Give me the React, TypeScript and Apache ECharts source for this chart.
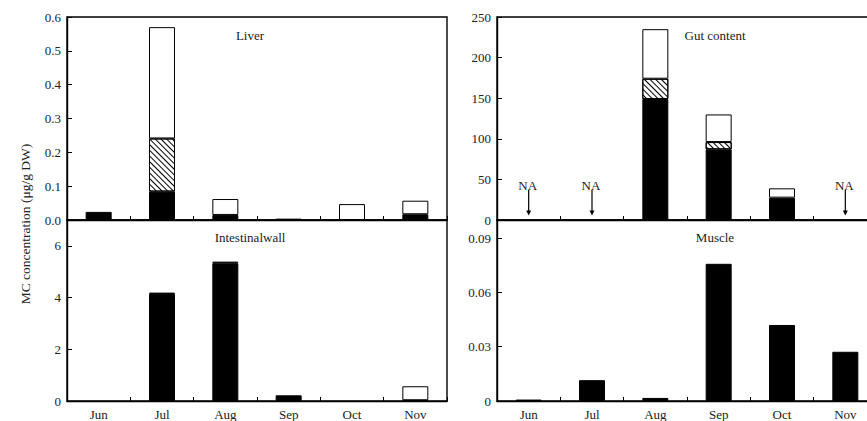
import React, { useEffect, useRef } from 'react';
import * as echarts from 'echarts';

const months = ['Jun', 'Jul', 'Aug', 'Sep', 'Oct', 'Nov'];

// Liver (µg/g DW)
const liverBlack = [0.024, 0.084, 0.015, 0.004, 0, 0.017];
const liverHatched = [0, 0.157, 0, 0, 0, 0];
const liverWhite = [0, 0.329, 0.047, 0, 0.047, 0.04];

// Gut content
const gutBlack = [null, null, 149, 87, 27.5, null];
const gutHatched = [null, null, 25, 9, 0, null];
const gutWhite = [null, null, 61, 34, 11.5, null];
const gutNA = ['Jun', 'Jul', 'Nov'];
const naLabelValue = 43;
const naArrowFrom = 37;
const naArrowTo = 5.5;

// Intestinal wall
const wallBlack = [0, 4.14, 5.33, 0.22, 0, 0.03];
const wallHatched = [0, 0, 0, 0, 0, 0];
const wallWhite = [0, 0.05, 0.06, 0, 0, 0.54];

// Muscle
const muscleBlack = [0.0008, 0.0115, 0.0017, 0.0758, 0.042, 0.0272];
const muscleHatched = [0, 0, 0, 0, 0, 0];
const muscleWhite = [0, 0, 0, 0, 0, 0];

const panelTitles = ['Liver', 'Gut content', 'Intestinalwall', 'Muscle'];
const yMax = [0.6, 250, 7, 0.1];
const yInterval = [0.1, 50, 2, 0.03];

const FONT = '"Liberation Serif", "Times New Roman", serif';
const TXT = '#222';

export default function App() {
  const ref = useRef<HTMLDivElement>(null);

  useEffect(() => {
    if (!ref.current) return;
    const chart = echarts.init(ref.current, undefined, { renderer: 'svg' });

    const grids = [
      { left: 67, top: 17, width: 380, height: 203 },
      { left: 497, top: 17, width: 380, height: 203 },
      { left: 67, top: 220, width: 380, height: 181 },
      { left: 497, top: 220, width: 380, height: 181 },
    ];

    const stacks = [
      [liverBlack, liverHatched, liverWhite],
      [gutBlack, gutHatched, gutWhite],
      [wallBlack, wallHatched, wallWhite],
      [muscleBlack, muscleHatched, muscleWhite],
    ];

    const axisLine = { show: true, lineStyle: { color: '#000', width: 1.4 } };

    const xAxis = grids.map((_, i) => ({
      type: 'category',
      gridIndex: i,
      data: months,
      boundaryGap: true,
      axisLine,
      axisTick: { show: true, inside: true, length: 4, lineStyle: { color: '#000', width: 1 } },
      axisLabel: {
        show: i >= 2,
        margin: 7,
        fontSize: 13,
        fontFamily: FONT,
        color: TXT,
      },
      splitLine: { show: false },
    }));

    const yAxis = grids.map((_, i) => ({
      type: 'value',
      gridIndex: i,
      min: 0,
      max: yMax[i],
      interval: yInterval[i],
      axisLine,
      axisTick: { show: true, inside: true, length: 5, lineStyle: { color: '#000', width: 1 } },
      axisLabel: {
        margin: 6,
        fontSize: 13,
        fontFamily: FONT,
        color: TXT,
        showMaxLabel: i < 2,
        formatter: i === 0 ? (v: number) => v.toFixed(1) : undefined,
      },
      splitLine: { show: false },
    }));

    const fills = [
      { color: '#000' },
      {
        color: '#fff',
        decal: {
          symbol: 'rect',
          symbolSize: 1,
          color: '#000',
          backgroundColor: '#fff',
          dashArrayX: [1, 0],
          dashArrayY: [1, 2.2],
          rotation: Math.PI / 4,
        },
      },
      { color: '#fff' },
    ];

    const series: any[] = [];
    stacks.forEach((arrs, i) => {
      arrs.forEach((arr, k) => {
        series.push({
          type: 'bar',
          name: `${panelTitles[i]}-${k}`,
          xAxisIndex: i,
          yAxisIndex: i,
          stack: 'p' + i,
          barWidth: 26,
          data: arr.map((v) => (v === 0 || v === null ? null : v)),
          itemStyle: { ...fills[k], borderColor: '#000', borderWidth: 1 },
          emphasis: { disabled: true },
        });
      });
    });

    series.push({
      type: 'custom',
      xAxisIndex: 1,
      yAxisIndex: 1,
      data: gutNA.map((m) => [months.indexOf(m)]),
      renderItem: (_params: any, api: any) => {
        const idx = api.value(0);
        const p0 = api.coord([idx, naArrowFrom]);
        const p1 = api.coord([idx, naArrowTo]);
        const pt = api.coord([idx, naLabelValue]);
        return {
          type: 'group',
          children: [
            {
              type: 'line',
              shape: { x1: p0[0], y1: p0[1], x2: p1[0], y2: p1[1] - 3 },
              style: { stroke: '#000', lineWidth: 1.2 },
            },
            {
              type: 'polygon',
              shape: { points: [[p1[0] - 2.5, p1[1] - 5], [p1[0] + 2.5, p1[1] - 5], [p1[0], p1[1]]] },
              style: { fill: '#000' },
            },
            {
              type: 'text',
              x: pt[0] - 1,
              y: pt[1],
              style: {
                text: 'NA',
                fontSize: 13,
                fontFamily: FONT,
                fill: TXT,
                textAlign: 'center',
                textVerticalAlign: 'middle',
              },
            },
          ],
        };
      },
    });

    const titlePos = [
      [250, 35],
      [715, 35],
      [250, 237],
      [715, 237],
    ];

    chart.setOption({
      animation: false,
      backgroundColor: '#fff',
      grid: grids.map((g) => ({
        ...g,
        outerBoundsMode: 'none',
        containLabel: false,
        show: true,
        borderColor: '#000',
        borderWidth: 1.4,
        backgroundColor: 'transparent',
      })),
      xAxis,
      yAxis,
      series,
      graphic: [
        ...panelTitles.map((t, i) => ({
          type: 'text',
          x: titlePos[i][0],
          y: titlePos[i][1],
          style: {
            text: t,
            fontSize: 13,
            fontFamily: FONT,
            fill: TXT,
            textAlign: 'center',
            textVerticalAlign: 'middle',
          },
        })),
        {
          type: 'text',
          x: 25,
          y: 224,
          rotation: Math.PI / 2,
          style: {
            text: 'MC concentration (μg/g DW)',
            fontSize: 13.5,
            fontFamily: FONT,
            fill: TXT,
            textAlign: 'center',
            textVerticalAlign: 'middle',
          },
        },
      ],
    });

    return () => chart.dispose();
  }, []);

  return (
    <div
      style={{ position: 'fixed', left: 0, top: 0, width: 867, height: 421, overflow: 'hidden', background: '#fff' }}
    >
      <div ref={ref} style={{ width: 900, height: 421 }} />
    </div>
  );
}
